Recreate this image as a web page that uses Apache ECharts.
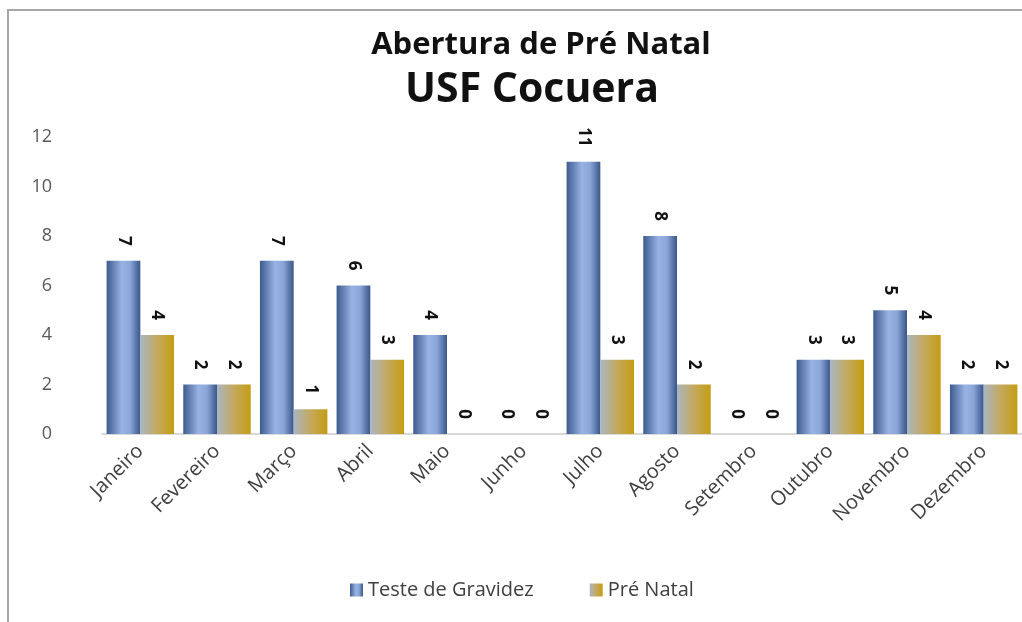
<!DOCTYPE html>
<html>
<head>
<meta charset="utf-8">
<script src="https://cdn.jsdelivr.net/npm/echarts@6/dist/echarts.min.js"></script>
<style>
  html, body { margin: 0; padding: 0; background: #fff; }
  #chart { width: 1022px; height: 622px; }
</style>
</head>
<body>
<div id="chart"></div>
<script>
// meses
const meses = ['Janeiro', 'Fevereiro', 'Março', 'Abril', 'Maio', 'Junho',
    'Julho', 'Agosto', 'Setembro', 'Outubro', 'Novembro', 'Dezembro'];

// valores por série
const testeGravidez = [7, 2, 7, 6, 4, 0, 11, 8, 0, 3, 5, 2];
const preNatal = [4, 2, 1, 3, 0, 0, 3, 2, 0, 3, 4, 2];

// eixo y
const yTicks = [0, 2, 4, 6, 8, 10, 12];

const FONT = '"Open Sans", Lato, sans-serif';

// gradientes horizontais das barras
const azul = new echarts.graphic.LinearGradient(0, 0, 1, 0, [
    { offset: 0, color: '#3e5b90' },
    { offset: 0.45, color: '#98b3e3' },
    { offset: 0.7, color: '#8aa6d8' },
    { offset: 1, color: '#3a5688' }
]);
const dourado = new echarts.graphic.LinearGradient(0, 0, 1, 0, [
    { offset: 0, color: '#aab6c2' },
    { offset: 0.5, color: '#c4a95e' },
    { offset: 1, color: '#c49d12' }
]);

function rotuloBarra() {
    return {
        show: true,
        position: 'top',
        distance: 15,
        rotate: -90,
        align: 'right',
        verticalAlign: 'middle',
        fontFamily: FONT,
        fontWeight: 'bold',
        fontSize: 17,
        color: '#111'
    };
}

const chart = echarts.init(document.getElementById('chart'));

chart.setOption({
    animation: false,
    backgroundColor: '#fff',
    graphic: [{
        type: 'rect',
        shape: { x: 8, y: 10, width: 1100, height: 700 },
        style: { fill: 'none', stroke: '#a6a6a6', lineWidth: 2 },
        silent: true
    }],
    title: [{
        text: 'Abertura de Pré Natal',
        left: 536,
        top: 25,
        textAlign: 'center',
        textStyle: { fontFamily: FONT, fontWeight: 'bold', fontSize: 31, color: '#111' }
    }, {
        text: 'USF Cocuera',
        left: 527,
        top: 65,
        textAlign: 'center',
        textStyle: { fontFamily: FONT, fontWeight: 'bold', fontSize: 41, color: '#111' }
    }],
    legend: {
        bottom: 17,
        left: 345,
        itemWidth: 13,
        itemHeight: 13,
        itemGap: 56,
        icon: 'rect',
        textStyle: { fontFamily: FONT, fontSize: 20, color: '#404040' },
        data: ['Teste de Gravidez', 'Pré Natal']
    },
    grid: { left: 102, right: 0, top: 137, bottom: 188 },
    xAxis: {
        type: 'category',
        data: meses,
        axisLine: { lineStyle: { color: '#d9d9d9', width: 2 } },
        axisTick: { show: false },
        axisLabel: {
            rotate: 45,
            margin: 14,
            interval: 0,
            fontFamily: FONT,
            fontSize: 20,
            color: '#404040'
        }
    },
    yAxis: {
        type: 'value',
        min: yTicks[0],
        max: yTicks[yTicks.length - 1],
        interval: 2,
        axisLine: { show: false },
        axisTick: { show: false },
        splitLine: { show: false },
        axisLabel: {
            margin: 50,
            fontFamily: FONT,
            fontSize: 18,
            color: '#595959'
        }
    },
    series: [{
        name: 'Teste de Gravidez',
        type: 'bar',
        data: testeGravidez,
        barGap: '0%',
        barCategoryGap: '12%',
        itemStyle: { color: azul },
        label: rotuloBarra()
    }, {
        name: 'Pré Natal',
        type: 'bar',
        data: preNatal,
        itemStyle: { color: dourado },
        label: rotuloBarra()
    }]
});
</script>
</body>
</html>
